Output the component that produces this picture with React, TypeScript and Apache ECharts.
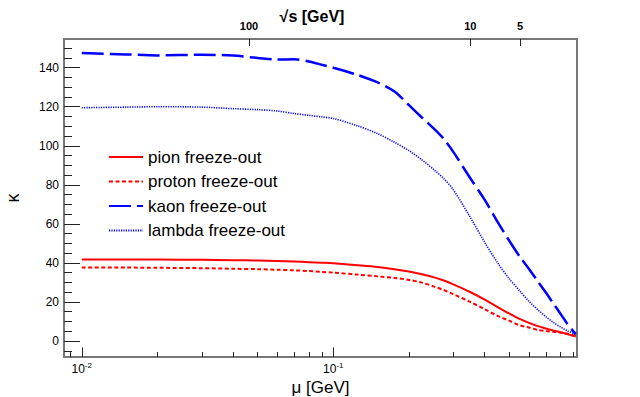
import React, { useEffect, useRef } from 'react';
import * as echarts from 'echarts';

// baryon chemical potential grid [GeV]
const MU = [0.01, 0.015, 0.02, 0.03, 0.04, 0.05, 0.06, 0.07, 0.08, 0.09, 0.1, 0.125, 0.15, 0.175, 0.2, 0.225, 0.25, 0.275, 0.3, 0.35, 0.4, 0.45, 0.5, 0.55, 0.6, 0.65, 0.7, 0.75, 0.8, 0.85, 0.92];
const PION = [41.7, 41.7, 41.7, 41.6, 41.4, 41.2, 41.0, 40.7, 40.4, 40.1, 39.8, 38.8, 37.9, 36.8, 35.6, 34.2, 32.7, 31.0, 29.0, 25.1, 21.2, 17.4, 14.1, 11.3, 9.3, 7.6, 6.4, 5.4, 4.5, 3.6, 2.3];
const PROTON = [37.6, 37.6, 37.5, 37.3, 37.0, 36.8, 36.5, 36.2, 35.8, 35.4, 35.0, 34.0, 33.1, 32.3, 31.3, 29.9, 28.0, 26.1, 24.0, 20.0, 16.3, 12.9, 10.4, 8.1, 6.9, 5.7, 5.1, 4.7, 4.3, 3.8, 2.7];
const KAON = [147.5, 146.8, 146.3, 146.6, 146.2, 145.0, 144.2, 144.3, 143.2, 141.5, 140.0, 136.3, 132.5, 127.8, 120.8, 114.5, 109.0, 103.5, 96.9, 83.5, 72.3, 61.0, 51.5, 43.4, 36.9, 30.6, 24.8, 19.2, 14.0, 9.0, 3.5];
const LAMBDA = [119.5, 119.8, 120.0, 119.8, 119.0, 118.5, 117.8, 116.5, 115.6, 114.8, 114.0, 110.2, 106.2, 101.8, 97.5, 92.8, 88.0, 83.2, 77.5, 63.5, 50.5, 40.0, 32.0, 25.8, 20.3, 16.0, 12.5, 9.5, 7.2, 5.3, 3.5];

const SERIES_NAMES = ['pion freeze-out', 'proton freeze-out', 'kaon freeze-out', 'lambda freeze-out'];

const X_MIN = 0.0085;
const X_MAX = 0.931;
const Y_MIN = -8.2;
const Y_MAX = 154.7;
const Y_MAJOR = [0, 20, 40, 60, 80, 100, 120, 140];
const Y_MINOR = [-5, 5, 10, 15, 25, 30, 35, 45, 50, 55, 65, 70, 75, 85, 90, 95, 105, 110, 115, 125, 130, 135, 145, 150];
const X_MINOR = [0.009, 0.02, 0.03, 0.04, 0.05, 0.06, 0.07, 0.08, 0.09, 0.2, 0.3, 0.4, 0.5, 0.6, 0.7, 0.8, 0.9];
const SQRT_S_TICKS = [100, 10, 5];

// freeze-out parametrisation mu_B(sqrt(s))
const muOfSqrtS = (s: number) => 1.308 / (1 + 0.273 * s);
const sqrtSOfMu = (mu: number) => (1.308 / mu - 1) / 0.273;

const FONT = "'Liberation Sans', Arial, Helvetica, sans-serif";
const FRAME = '#777';
const TICK = '#222';

export default function App() {
  const ref = useRef<HTMLDivElement>(null);
  useEffect(() => {
    if (!ref.current) return;
    const chart = echarts.init(ref.current, null, { renderer: 'svg' });
    const pairs = (ys: number[]) => MU.map((m, i) => [m, ys[i]]);
    const lg = (v: number) => Math.log10(v);
    const noZero = { onZero: false };
    chart.setOption({
      animation: false,
      backgroundColor: '#fff',
      textStyle: { fontFamily: FONT },
      grid: { left: 64, right: 63, top: 39, bottom: 40, containLabel: false, outerBoundsMode: 'none' },
      legend: {
        left: 103,
        top: 143,
        orient: 'vertical',
        itemWidth: 34,
        itemHeight: 14,
        itemGap: 6.5,
        data: SERIES_NAMES,
        itemStyle: { opacity: 0 },
        textStyle: { fontSize: 17, color: '#000', fontFamily: FONT, lineHeight: 18 },
      },
      xAxis: [
        {
          type: 'log',
          logBase: 10,
          min: X_MIN,
          max: X_MAX,
          position: 'bottom',
          name: 'μ [GeV]',
          nameLocation: 'middle',
          nameGap: 21,
          nameMoveOverlap: false,
          nameTextStyle: { fontSize: 17, color: '#000', fontFamily: FONT, lineHeight: 18 },
          axisLine: { show: true, ...noZero, lineStyle: { color: FRAME, width: 2 } },
          axisTick: { show: true, inside: true, length: 9.5, lineStyle: { color: TICK, width: 1 } },
          minorTick: { show: false },
          splitLine: { show: false },
          axisLabel: {
            margin: 4,
            showMinLabel: false,
            showMaxLabel: false,
            formatter: (v: number) => {
              const e = Math.round(Math.log10(v));
              if (Math.abs(Math.log10(v) - e) > 1e-6) return '';
              return `{b|10}{s|${e}}`;
            },
            rich: {
              b: { fontSize: 12, color: '#000', fontFamily: FONT, verticalAlign: 'bottom', lineHeight: 14 },
              s: { fontSize: 8, color: '#000', fontFamily: FONT, verticalAlign: 'top', lineHeight: 14, padding: [0, 0, 6, 0] },
            },
          },
        },
        {
          type: 'value',
          min: lg(X_MIN),
          max: lg(X_MAX),
          position: 'bottom',
          axisLine: { show: false, ...noZero },
          axisTick: { show: true, inside: true, length: 5, customValues: X_MINOR.map(lg), lineStyle: { color: TICK, width: 1 } },
          axisLabel: { show: false },
          splitLine: { show: false },
        },
        {
          type: 'value',
          min: lg(X_MIN),
          max: lg(X_MAX),
          position: 'top',
          name: '√s [GeV]',
          nameLocation: 'middle',
          nameGap: 15,
          nameMoveOverlap: false,
          nameTextStyle: { fontSize: 16, fontWeight: 'bold', color: '#000', fontFamily: FONT, padding: [0, 17, 0, 0] },
          axisLine: { show: true, ...noZero, lineStyle: { color: FRAME, width: 2 } },
          axisTick: { show: true, inside: true, length: 7, customValues: SQRT_S_TICKS.map((s) => lg(muOfSqrtS(s))), lineStyle: { color: TICK, width: 1 } },
          axisLabel: {
            customValues: SQRT_S_TICKS.map((s) => lg(muOfSqrtS(s))),
            margin: 8,
            fontSize: 11,
            fontWeight: 'bold',
            color: '#000',
            formatter: (v: number) => String(Math.round(sqrtSOfMu(Math.pow(10, v)))),
          },
          splitLine: { show: false },
        },
      ],
      yAxis: [
        {
          type: 'value',
          min: Y_MIN,
          max: Y_MAX,
          position: 'left',
          name: 'κ',
          nameLocation: 'middle',
          nameRotate: 90,
          nameGap: 42,
          nameMoveOverlap: false,
          nameTextStyle: { fontSize: 18, color: '#000', fontFamily: FONT },
          axisLine: { show: true, ...noZero, lineStyle: { color: FRAME, width: 2 } },
          axisTick: { show: true, inside: true, length: 16, customValues: Y_MAJOR, lineStyle: { color: TICK, width: 1 } },
          axisLabel: { customValues: Y_MAJOR, margin: 5, fontSize: 12, color: '#000' },
          splitLine: { show: false },
        },
        {
          type: 'value',
          min: Y_MIN,
          max: Y_MAX,
          position: 'left',
          axisLine: { show: false, ...noZero },
          axisTick: { show: true, inside: true, length: 8, customValues: Y_MINOR, lineStyle: { color: TICK, width: 1 } },
          axisLabel: { show: false },
          splitLine: { show: false },
        },
        {
          type: 'value',
          min: Y_MIN,
          max: Y_MAX,
          position: 'right',
          axisLine: { show: true, ...noZero, lineStyle: { color: FRAME, width: 2 } },
          axisTick: { show: false },
          axisLabel: { show: false },
          splitLine: { show: false },
        },
      ],
      series: [
        {
          name: SERIES_NAMES[0], type: 'line', data: pairs(PION), xAxisIndex: 0, yAxisIndex: 0,
          symbol: 'none', smooth: 0.3, color: '#ff0000',
          lineStyle: { color: '#ff0000', width: 2, type: 'solid' },
        },
        {
          name: SERIES_NAMES[1], type: 'line', data: pairs(PROTON), xAxisIndex: 0, yAxisIndex: 0,
          symbol: 'none', smooth: 0.3, color: '#ff0000',
          lineStyle: { color: '#ff0000', width: 2, type: [4, 2.5] },
        },
        {
          name: SERIES_NAMES[2], type: 'line', data: pairs(KAON), xAxisIndex: 0, yAxisIndex: 0,
          symbol: 'none', smooth: 0.3, color: '#0000ff',
          lineStyle: { color: '#0000ff', width: 2.5, type: [22, 6] },
        },
        {
          name: SERIES_NAMES[3], type: 'line', data: pairs(LAMBDA), xAxisIndex: 0, yAxisIndex: 0,
          symbol: 'none', smooth: 0.3, color: '#0000ff',
          lineStyle: { color: '#0000ff', width: 1.6, type: [1.2, 1.2] },
        },
      ],
    });
    return () => chart.dispose();
  }, []);
  return <div ref={ref} style={{ position: 'fixed', left: 0, top: 0, width: 640, height: 397 }} />;
}
